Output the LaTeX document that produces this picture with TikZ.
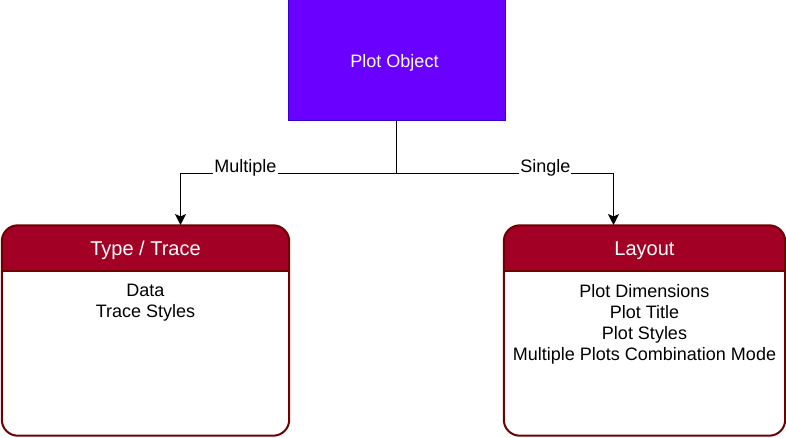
\documentclass[tikz,border=0pt]{standalone}
\usepackage{fontspec}
\setmainfont{Liberation Sans}
\usetikzlibrary{positioning, calc, arrows.meta}

\definecolor{objfill}{HTML}{6A00FF}
\definecolor{objline}{HTML}{3700CC}
\definecolor{hdrfill}{HTML}{A20025}
\definecolor{hdrline}{HTML}{6F0000}

\begin{document}
\begin{tikzpicture}[x=1pt, y=-1pt,
  objbox/.style={draw=objline, fill=objfill, line width=1pt, minimum width=217pt, minimum height=121pt, inner sep=0pt},
  hdrtext/.style={text=white, font=\fontsize{20}{24}\selectfont, inner sep=0pt},
  cardtext/.style={align=center, font=\fontsize{18}{21}\selectfont, inner sep=0pt},
  conn/.style={line width=1.4pt, -{Stealth[length=11pt, width=11pt, inset=2.5pt]}},
  branch/.style={fill=white, font=\fontsize{18}{21}\selectfont, inner xsep=1pt, inner ysep=2pt}]

\useasboundingbox (0,0) rectangle (786,438);

%//top box
\node [objbox] (obj) at (396.5, 60.5) {};
\node [text=white, font=\fontsize{18}{21}\selectfont, anchor=base] (objlabel) at (394.5, 68) {Plot Object};

%//the two cards
\foreach \card/\cx/\w/\ax/\head/\lines in {trace/145.5/287/180.5/{Type / Trace}/{Data\\Trace Styles},
    layout/644.5/281/613.5/{Layout}/{Plot Dimensions\\Plot Title\\Plot Styles\\Multiple Plots Combination Mode}}
{
\node [minimum width=\w pt, minimum height=210pt, inner sep=0pt, fill=white] (\card) at (\cx, 330.5) {};
\begin{scope}
\clip [rounded corners=16pt] (\card.south west) rectangle (\card.north east);
\fill [hdrfill] (\card.north west) rectangle ($(\card.north east)+(0,46)$);
\end{scope}
\draw [hdrline, line width=2pt] ($(\card.north west)+(0,46)$) -- ($(\card.north east)+(0,46)$);
\draw [hdrline, line width=2pt, rounded corners=16pt] (\card.south west) rectangle (\card.north east);
\node [hdrtext, anchor=base] (\card-head) at ($(\card.north)+(0,30.5)$) {\head};
\node [cardtext, anchor=north] (\card-body) at ($(\card.north)+(0,59)$) {\lines};
\coordinate (\card-in) at (\ax, 225);
}

%//connectors
\draw [conn] (obj.south) -- ++(0,52) -| (trace-in);
\draw [conn] (obj.south) -- ++(0,52) -| (layout-in);

\node [branch, anchor=base] (multi) at (245.5, 173) {Multiple};
\node [branch, anchor=base] (single) at (545.3, 173) {Single};

\end{tikzpicture}
\end{document}
